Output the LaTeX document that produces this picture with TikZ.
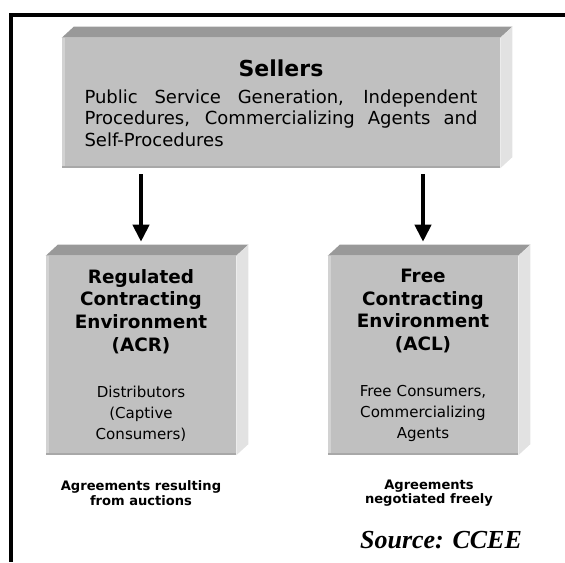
\documentclass[tikz,border=0pt]{standalone}
\usepackage{fontspec}
\setmainfont{DejaVu Sans}
\newfontfamily\srcfont{Liberation Serif}
\usetikzlibrary{arrows.meta}
\definecolor{frontgray}{HTML}{C0C0C0}
\definecolor{topgray}{HTML}{999999}
\definecolor{sidegray}{HTML}{E2E2E2}
\definecolor{edgelight}{HTML}{D2D2D2}
\definecolor{edgedark}{HTML}{A8A8A8}
\tikzstyle{block}=[rectangle,fill=frontgray,inner sep=0pt]
\tikzstyle{flow}=[line width=3pt,-{Triangle[length=12.75pt,width=12pt]},shorten <=4.5pt,shorten >=10.5pt]
\tikzstyle{note}=[align=center,font=\bfseries\fontsize{9.8}{10.8}\selectfont]

\begin{document}
\begin{tikzpicture}[x=0.75pt,y=-0.75pt]
\useasboundingbox (0,0) rectangle (565,562);
% frame
\draw[line width=3pt] (565,15) -- (11,15) -- (11,562);

% boxes
\node[block,minimum width=328.5pt,minimum height=97.5pt,text width=294.75pt,align=justify,
  font=\fontsize{13.5}{16.1}\selectfont] (sellers) at (281,103)
  {{\centering\fontsize{16.5}{19}\selectfont\bfseries Sellers\par}\vspace{4.5pt}\hyphenpenalty=10000
  Public Service Generation, Independent\linebreak Procedures, Commercializing Agents and\linebreak Self-Procedures\par
  \vspace{9pt}};
\node[block,minimum width=142.5pt,minimum height=149.25pt,text width=142.5pt,align=center,
  font=\fontsize{11.3}{15.9}\selectfont] (acr) at (141,355.5)
  {{\bfseries\fontsize{13.8}{17}\selectfont Regulated\\Contracting\\Environment\\(ACR)\par}\vspace{18.75pt}
  Distributors\\(Captive\\Consumers)\par\vspace{-4.5pt}};
\node[block,minimum width=142.5pt,minimum height=149.25pt,text width=142.5pt,align=center,
  font=\fontsize{11.3}{15.9}\selectfont] (acl) at (423,355.5)
  {{\bfseries\fontsize{13.8}{17}\selectfont Free\\Contracting\\Environment\\(ACL)\par}\vspace{18.75pt}
  Free Consumers,\\Commercializing\\Agents\par\vspace{-4.5pt}};

% bevel faces
\foreach \b in {sellers,acr,acl}{
  \fill[topgray] (\b.north west) -- ++(12,-11) -- ([shift={(12,-11)}]\b.north east) -- (\b.north east) -- cycle;
  \fill[sidegray] (\b.north east) -- ++(12,-11) -- ([shift={(12,-11)}]\b.south east) -- (\b.south east) -- cycle;
  \fill[edgelight] (\b.north west) rectangle ([shift={(3,0)}]\b.south west);
  \fill[edgedark] ([shift={(0,-2)}]\b.south west) rectangle (\b.south east);
}

% notes
\node[note] (auctions) at (141,493) {Agreements resulting\\from auctions};
\node[note] (freely) at (429,493) {Agreements\\negotiated freely};
\node[font=\srcfont\bfseries\itshape\fontsize{19.5}{22}\selectfont] (source) at (441,540) {Source: CCEE};

% arrows
\draw[flow] (acr.north |- sellers.south) -- (acr.north);
\draw[flow] (acl.north |- sellers.south) -- (acl.north);
\end{tikzpicture}
\end{document}
